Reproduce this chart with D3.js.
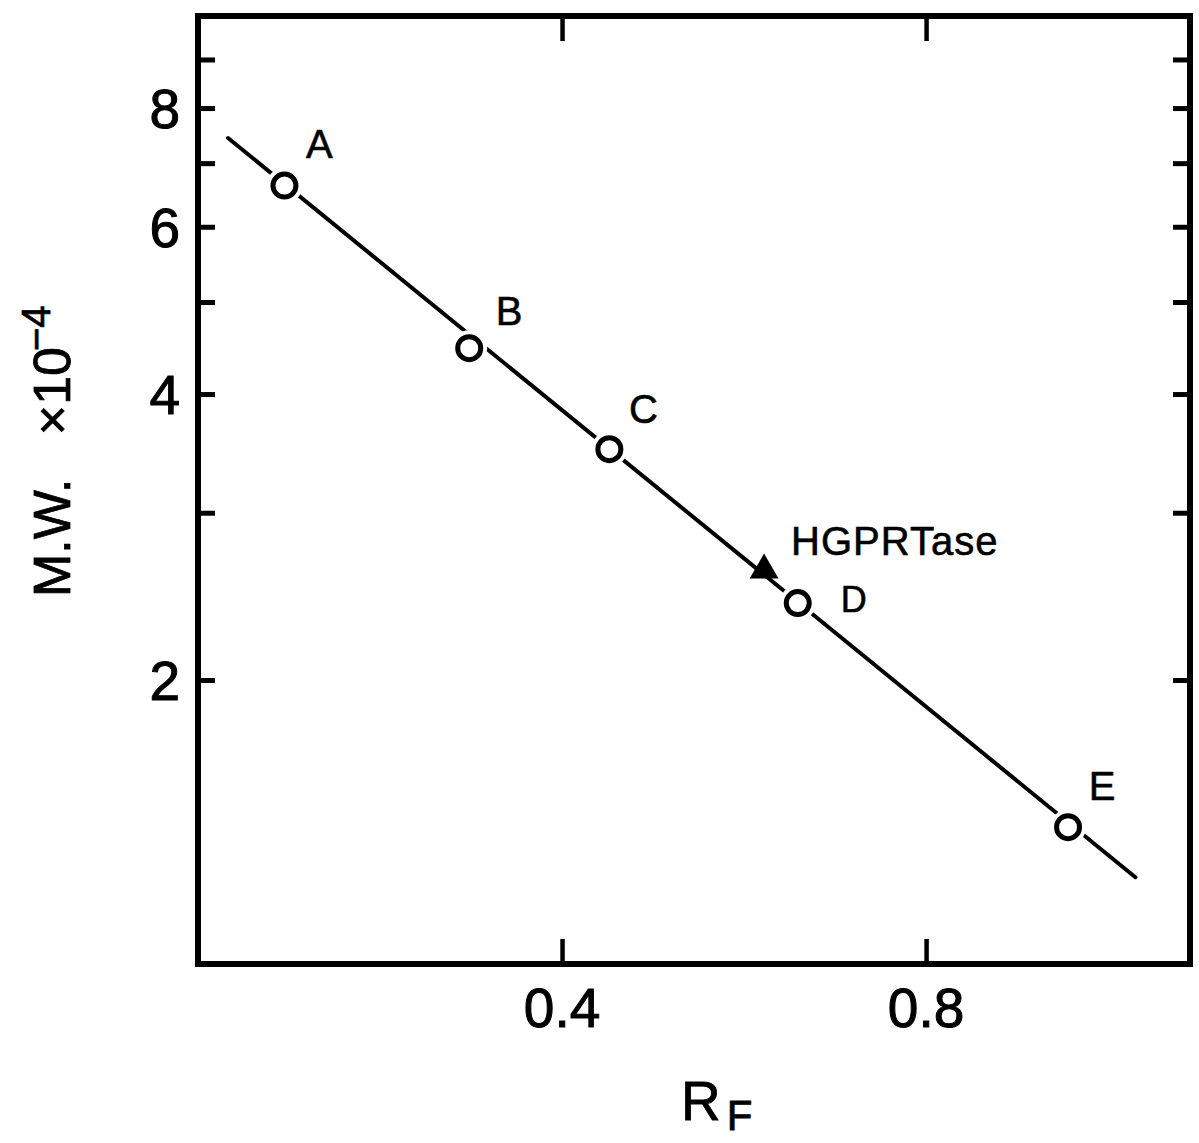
<!DOCTYPE html>
<html>
<head>
<meta charset="utf-8">
<script src="https://cdn.jsdelivr.net/npm/d3@7"></script>
<style>
  html, body { margin: 0; padding: 0; background: #fff; }
  svg { display: block; }
  text { font-family: "Liberation Sans", Arial, sans-serif; fill: #000; }
</style>
</head>
<body>
<svg id="chart" width="1199" height="1143"></svg>
<script>
// ---- data ----
const standardNames = ["A", "B", "C", "D", "E"];
const standardRf = [0.095, 0.298, 0.452, 0.659, 0.956];
const standardMW = [6.63, 4.47, 3.50, 2.41, 1.40];

const sampleName = ["HGPRTase"];
const sampleRf = [0.622];
const sampleMW = [2.61];

const fitRf = [0.033, 1.030];
const fitMW = [7.44, 1.24];

const xTickValues = [0.4, 0.8];
const xTickLabels = ["0.4", "0.8"];
const yLabelValues = [2, 4, 6, 8];
const yLabelTexts = ["2", "4", "6", "8"];
const yTickValues = [2, 3, 4, 5, 6, 7, 8, 9];

(function () {
// ---- layout ----
const svg = d3.select("#chart");
const pLeft = 198, pRight = 1190, pTop = 16, pBottom = 966;

const x = d3.scaleLinear().domain([0, 1.09]).range([pLeft, pRight]);
const y = d3.scaleLog().domain([1, 10]).range([pBottom, pTop]);

// frame
svg.append("rect")
  .attr("x", pLeft).attr("y", pTop)
  .attr("width", pRight - pLeft).attr("height", pBottom - pTop - 2)
  .attr("fill", "none").attr("stroke", "#000").attr("stroke-width", 6);

// y ticks (left & right, inward)
const yAxisL = d3.axisLeft(y).tickValues(yTickValues).tickSize(-17).tickFormat("");
const gL = svg.append("g").attr("transform", `translate(${pLeft},0)`).call(yAxisL);
const yAxisR = d3.axisRight(y).tickValues(yTickValues).tickSize(-17).tickFormat("");
const gR = svg.append("g").attr("transform", `translate(${pRight},0)`).call(yAxisR);
[gL, gR].forEach(g => {
  g.select(".domain").remove();
  g.selectAll(".tick line").attr("stroke", "#000").attr("stroke-width", 5);
});

// y labels
svg.append("g").selectAll("text")
  .data(yLabelValues)
  .join("text")
  .attr("x", 180)
  .attr("y", d => y(d))
  .attr("dy", "0.36em")
  .attr("text-anchor", "end")
  .attr("font-size", 55)
  .attr("stroke", "#000").attr("stroke-width", 1)
  .text((d, i) => yLabelTexts[i]);

// x ticks (top & bottom, inward)
const xAxisB = d3.axisBottom(x).tickValues(xTickValues).tickSize(-25).tickFormat("");
const gB = svg.append("g").attr("transform", `translate(0,${pBottom - 2})`).call(xAxisB);
const xAxisT = d3.axisTop(x).tickValues(xTickValues).tickSize(-25).tickFormat("");
const gT = svg.append("g").attr("transform", `translate(0,${pTop})`).call(xAxisT);
[gB, gT].forEach(g => {
  g.select(".domain").remove();
  g.selectAll(".tick line").attr("stroke", "#000").attr("stroke-width", 4.5);
});

// x labels
svg.append("g").selectAll("text")
  .data(xTickValues)
  .join("text")
  .attr("x", d => x(d))
  .attr("y", 1027)
  .attr("text-anchor", "middle")
  .attr("font-size", 55)
  .attr("stroke", "#000").attr("stroke-width", 1)
  .text((d, i) => xTickLabels[i]);

// fitted line
const fitData = fitRf.map((r, i) => ({ r, m: fitMW[i] }));
svg.append("path")
  .datum(fitData)
  .attr("d", d3.line().x(d => x(d.r)).y(d => y(d.m)))
  .attr("fill", "none").attr("stroke", "#000").attr("stroke-width", 4)
  .attr("stroke-linecap", "round");

// standards
const stdData = standardNames.map((n, i) => ({ n, r: standardRf[i], m: standardMW[i] }));
svg.append("g").selectAll("circle.halo")
  .data(stdData).join("circle")
  .attr("class", "halo")
  .attr("cx", d => x(d.r)).attr("cy", d => y(d.m))
  .attr("r", 18).attr("fill", "#fff");
svg.append("g").selectAll("circle.pt")
  .data(stdData).join("circle")
  .attr("class", "pt")
  .attr("cx", d => x(d.r)).attr("cy", d => y(d.m))
  .attr("r", 11.5).attr("fill", "#fff")
  .attr("stroke", "#000").attr("stroke-width", 5);

// standard labels (offsets relative to point)
const labelOffsets = {
  A: [35, -28], B: [40, -23], C: [34, -26], D: [56, 9], E: [34, -27]
};
svg.append("g").selectAll("text")
  .data(stdData).join("text")
  .attr("x", d => x(d.r) + labelOffsets[d.n][0])
  .attr("y", d => y(d.m) + labelOffsets[d.n][1])
  .attr("text-anchor", "middle")
  .attr("font-size", d => d.n === "D" ? 36 : 40)
  .attr("stroke", "#000").attr("stroke-width", 0.6)
  .text(d => d.n);

// sample (triangle)
const smpData = sampleName.map((n, i) => ({ n, r: sampleRf[i], m: sampleMW[i] }));
svg.append("g").selectAll("path")
  .data(smpData).join("path")
  .attr("transform", d => `translate(${x(d.r)},${y(d.m)})`)
  .attr("d", d3.symbol().type(d3.symbolTriangle).size(362))
  .attr("fill", "#000");
svg.append("g").selectAll("text")
  .data(smpData).join("text")
  .attr("x", d => x(d.r) + 27)
  .attr("y", d => y(d.m) - 15)
  .attr("font-size", 40)
  .attr("letter-spacing", 1)
  .attr("stroke", "#000").attr("stroke-width", 0.6)
  .text(d => d.n);

// y axis title
const yt = svg.append("text")
  .attr("transform", "translate(70,597) rotate(-90)")
  .attr("font-size", 52)
  .attr("stroke", "#000").attr("stroke-width", 0.8);
yt.append("tspan").text("M.W.\u00a0\u00a0\u00a0\u00d710");
yt.append("tspan").attr("font-size", 40).attr("dy", -20).attr("dx", -4).text("\u22124");

// x axis title
const xt = svg.append("text")
  .attr("x", 681).attr("y", 1120)
  .attr("font-size", 55)
  .attr("stroke", "#000").attr("stroke-width", 0.8);
xt.append("tspan").text("R");
xt.append("tspan").attr("font-size", 42).attr("dx", 6).attr("dy", 10).text("F");
})();
</script>
</body>
</html>
